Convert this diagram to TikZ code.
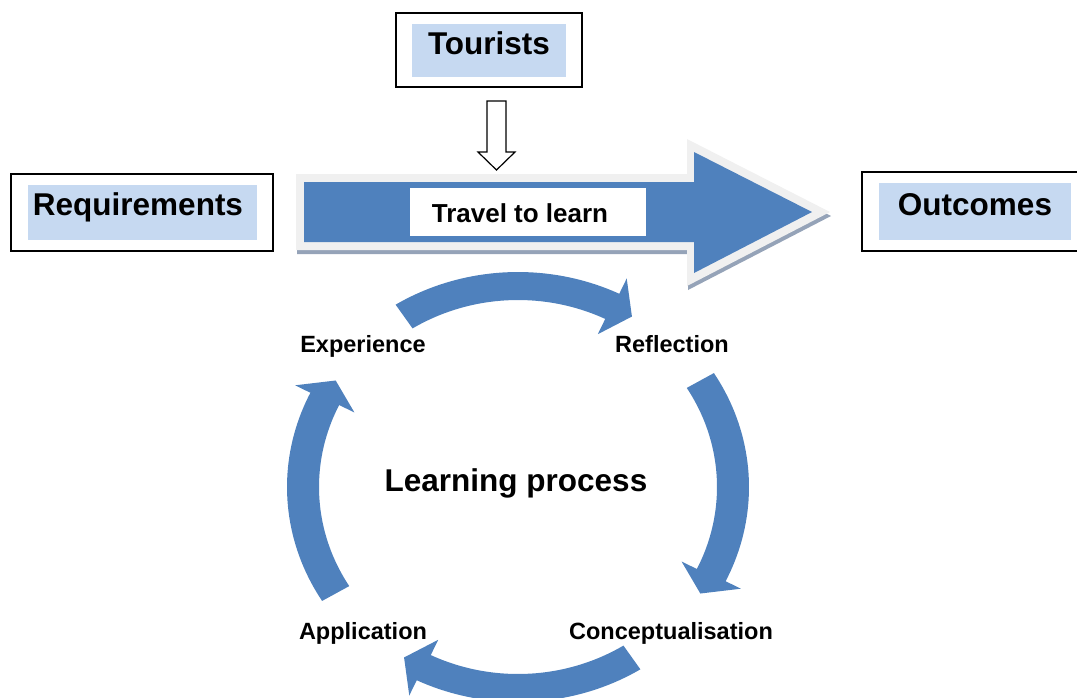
\documentclass[tikz,border=0pt]{standalone}
\usepackage{fontspec}
\setmainfont{Liberation Sans}
\definecolor{cycleblue}{HTML}{4F81BD}
\definecolor{paleblue}{HTML}{C6D9F1}
\definecolor{rimgrey}{HTML}{F0F0F0}
\definecolor{shadowgrey}{HTML}{95A3B8}

\begin{document}
\begin{tikzpicture}[x=1pt, y=-1pt,
    frame/.style={draw=black, line width=1.8pt, fill=white, inner sep=0pt, outer sep=0pt},
    shade/.style={fill=paleblue, inner sep=0pt, outer sep=0pt},
    bigtext/.style={font=\fontsize{31.5}{36}\selectfont\bfseries, anchor=base, inner sep=0pt},
    steptext/.style={font=\fontsize{23.5}{28}\selectfont\bfseries, anchor=base, inner sep=0pt}]
    \useasboundingbox (0,0) rectangle (1077,697);

    % the three framed boxes
    \foreach \name/\cx/\cy/\w/\h in {tourbox/489/50/186/74, reqbox/142/212.5/262/77, outbox/975/211.5/226/79}
      \node[frame, minimum width=\w, minimum height=\h] (\name) at (\cx,\cy) {};

    \foreach \name/\cx/\cy/\w/\h in {tourfill/489/50.5/154/53, reqfill/142.5/212.5/229/55, outfill/975/211.5/192/57}
      \node[shade, minimum width=\w, minimum height=\h] (\name) at (\cx,\cy) {};

    \node[bigtext] (tourists) at (489,54) {Tourists};
    \node[bigtext] (requirements) at (138,215) {Requirements};
    \node[bigtext] (outcomes) at (975,215) {Outcomes};

    % big arrow
    \fill[shadowgrey] (297,178) -- (688,178) -- (688,143) -- (831,216) -- (688,290)
      -- (688,254) -- (297,254) -- cycle;
    \fill[rimgrey] (296,174) -- (687,174) -- (687,139) -- (830,212) -- (687,286)
      -- (687,250) -- (296,250) -- cycle;
    \fill[cycleblue] (304,182) -- (694,182) -- (694,152) -- (812,212) -- (694,273)
      -- (694,242) -- (304,242) -- cycle;
    \node[fill=white, minimum width=236, minimum height=48, inner sep=0pt] (travelbox) at (528,212) {};
    \node[font=\fontsize{26}{30}\selectfont\bfseries, anchor=base, inner sep=0pt] (travel) at (520,222) {Travel to learn};

    % hollow arrow down from the tourists
    \coordinate (drop) at (496.5,101);
    \draw[line width=1.2pt, fill=white] (drop) ++(-9.5,0) -- ++(19,0) -- ++(0,51) -- ++(9,0)
      -- ++(-18.5,18) -- ++(-18.5,-18) -- ++(9,0) -- cycle;

    % learning cycle
    \foreach \s [evaluate=\s as \b using \s+58, evaluate=\s as \t using \s+64] in {-122,-32,58,148}
      \fill[cycleblue] plot[domain=\s:\b, samples=40] ({518+231*cos(\x)},{487+215*sin(\x)})
        -- ({518+248*cos(\b)},{487+232*sin(\b)})
        -- ({518+215*cos(\t)},{487+201*sin(\t)})
        -- ({518+182*cos(\b)},{487+170*sin(\b)})
        -- plot[domain=\b:\s, samples=40] ({518+199*cos(\x)},{487+187*sin(\x)})
        -- cycle;

    \node[bigtext] (process) at (516,491) {Learning process};
    \node[steptext] (experience) at (363,352) {Experience};
    \node[steptext] (reflection) at (672,352) {Reflection};
    \node[steptext] (application) at (363,639) {Application};
    \node[steptext] (concept) at (671,639) {Conceptualisation};
\end{tikzpicture}
\end{document}
